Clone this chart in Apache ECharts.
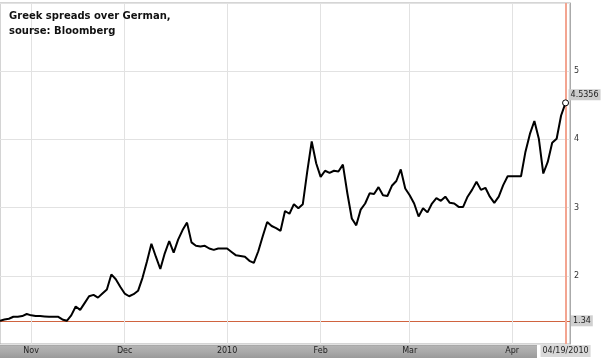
<!DOCTYPE html>
<html><head><meta charset="utf-8">
<script src="https://cdn.jsdelivr.net/npm/echarts@6/dist/echarts.min.js"></script>
<style>html,body{margin:0;padding:0;background:#fff}#c{width:603px;height:364px}</style>
</head><body><div id="c"></div>
<script>
// Trading days (weekdays) from first to last date
const startDate = '2009-10-22';
const endDate = '2010-04-19';
// Month labels placed at first trading day of each month
const monthLabels = {'2009-11':'Nov','2009-12':'Dec','2010-01':'2010','2010-02':'Feb','2010-03':'Mar','2010-04':'Apr'};
// Y axis ticks
const yTicks = [2, 3, 4, 5];
// Spread values (percentage points), one per trading day
const spread = [
1.34,1.36,1.37,1.40,1.40,1.41,1.44,1.42,1.41,1.41,
1.405,1.40,1.40,1.40,1.36,1.34,1.42,1.55,1.50,1.60,
1.70,1.72,1.68,1.74,1.80,2.02,1.95,1.84,1.74,1.70,
1.73,1.78,1.97,2.21,2.47,2.28,2.10,2.33,2.51,2.34,
2.53,2.67,2.78,2.49,2.44,2.43,2.44,2.40,2.38,2.40,
2.40,2.40,2.35,2.30,2.29,2.28,2.22,2.19,2.36,2.58,
2.79,2.73,2.70,2.66,2.95,2.91,3.05,2.99,3.05,3.53,
3.97,3.65,3.45,3.54,3.51,3.54,3.53,3.63,3.21,2.84,
2.74,2.97,3.06,3.21,3.20,3.30,3.18,3.17,3.32,3.39,
3.56,3.28,3.18,3.06,2.87,2.99,2.93,3.06,3.14,3.10,
3.16,3.07,3.06,3.01,3.01,3.16,3.26,3.38,3.26,3.29,
3.16,3.07,3.16,3.33,3.46,3.46,3.46,3.46,3.82,4.08,
4.27,4.01,3.50,3.67,3.95,4.01,4.35,4.5356
];
const lastLabel = '4.5356';
const refLevel = 1.34;
const refLevelLabel = '1.34';
const cursorDate = '2010-04-19';
const cursorLabel = '04/19/2010';
const titleText = 'Greek spreads over German,\nsourse: Bloomberg';

function weekdays(s, e) {
  const out = [];
  let d = new Date(s + 'T00:00:00Z');
  const end = new Date(e + 'T00:00:00Z');
  while (d <= end) {
    const w = d.getUTCDay();
    if (w !== 0 && w !== 6) out.push(d.toISOString().slice(0, 10));
    d = new Date(d.getTime() + 86400000);
  }
  return out;
}
const dates = weekdays(startDate, endDate);
const categories = dates.concat(['']);
const firstOfMonth = new Set();
const seen = new Set();
dates.forEach(d => { const m = d.slice(0, 7); if (!seen.has(m)) { seen.add(m); if (monthLabels[m]) firstOfMonth.add(d); } });

const lastIdx = spread.length - 1;
const seriesData = spread.map((v, i) => i === lastIdx
  ? {value: v, symbol: 'circle', symbolSize: 6, itemStyle: {color: '#fff', borderColor: '#000', borderWidth: 1}}
  : v);

const FONT = 'DejaVu Sans';
const chart = echarts.init(document.getElementById('c'), null, {renderer: 'canvas'});
chart.setOption({
  animation: false,
  backgroundColor: '#fff',
  title: {
    text: titleText, left: 4, top: 4, z: 30,
    textStyle: {fontFamily: FONT, fontSize: 10, fontWeight: 'bold', color: '#111', lineHeight: 15}
  },
  grid: {left: 0, right: 33, top: 3, bottom: 20, show: true, borderColor: '#aaa', borderWidth: 1, backgroundColor: 'transparent'},
  graphic: {elements: [{
    type: 'rect', left: 0, top: 344, z: 0,
    shape: {width: 537, height: 14},
    style: {fill: new echarts.graphic.LinearGradient(0, 0, 0, 1, [
      {offset: 0, color: '#8c8c8c'}, {offset: 0.15, color: '#b4b4b4'}, {offset: 0.6, color: '#a8a8a8'}, {offset: 1, color: '#9a9a9a'}])}
  }]},
  xAxis: {
    type: 'category', data: categories, boundaryGap: false, z: 10,
    axisLine: {show: false}, axisTick: {show: false},
    axisLabel: {
      interval: (i, v) => firstOfMonth.has(v), margin: 3,
      formatter: v => monthLabels[v.slice(0, 7)] || '',
      fontFamily: FONT, fontSize: 8, color: '#222'
    },
    splitLine: {show: true, interval: (i, v) => firstOfMonth.has(v), lineStyle: {color: '#e2e2e2', width: 1}}
  },
  yAxis: {
    type: 'value', position: 'right', min: 1, max: 6, interval: 1,
    axisLine: {show: true, lineStyle: {color: '#aaa'}}, axisTick: {show: false},
    axisLabel: {margin: 4, fontFamily: FONT, fontSize: 8, color: '#333',
      formatter: v => yTicks.includes(v) ? String(v) : ''},
    splitLine: {show: true, lineStyle: {color: '#e2e2e2', width: 1}}
  },
  series: [{
    type: 'line', data: seriesData, symbol: 'none', showSymbol: true, showAllSymbol: true,
    lineStyle: {color: '#000', width: 2}, z: 20,
    endLabel: {show: true, formatter: lastLabel, distance: 3, offset: [0, -8],
      backgroundColor: '#cccccc', padding: [2, 2, 1, 2], fontFamily: FONT, fontSize: 8, color: '#222'},
    markLine: {
      silent: true, symbol: 'none', animation: false,
      data: [
        {yAxis: refLevel, lineStyle: {color: '#d0633f', width: 1, type: 'solid'},
          label: {show: true, position: 'end', formatter: refLevelLabel, distance: 1,
            backgroundColor: '#d0d0d0', padding: [2, 2, 1, 2], fontFamily: FONT, fontSize: 8, color: '#222'}},
        {xAxis: cursorDate, lineStyle: {color: '#f3a591', width: 2, type: 'solid'},
          label: {show: true, position: 'start', formatter: cursorLabel, distance: 1,
            backgroundColor: '#d8d8d8', padding: [2, 2, 2, 2], fontFamily: FONT, fontSize: 8, color: '#222'}}
      ]
    }
  }]
});
</script>
</body></html>
